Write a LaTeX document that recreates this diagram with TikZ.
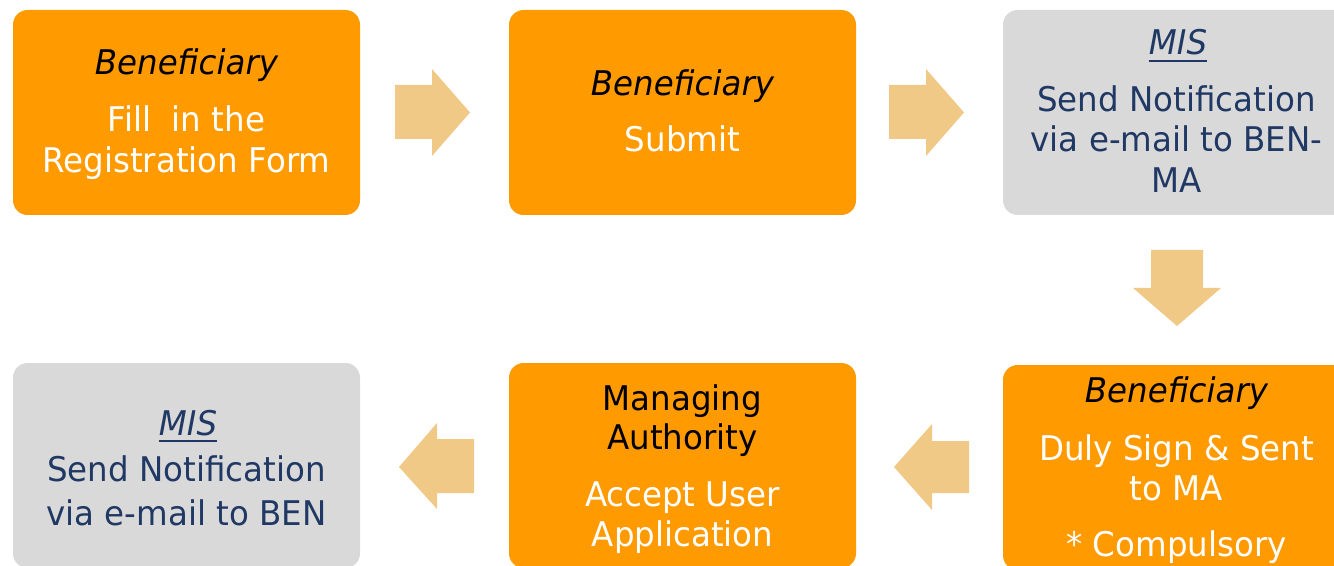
\documentclass[tikz,border=0pt]{standalone}
\usepackage{fontspec}
\setmainfont{DejaVu Sans}[FakeStretch=0.955]
\definecolor{orng}{HTML}{FF9A00}
\definecolor{grayb}{HTML}{D9D9D9}
\definecolor{arrc}{HTML}{F0C987}
\definecolor{navy}{HTML}{203864}
\tikzset{
  box/.style={rounded corners=11pt, minimum width=260.25pt, minimum height=153.75pt, inner sep=0pt},
  obox/.style={box, fill=orng},
  gbox/.style={box, fill=grayb},
  txt/.style={inner sep=0pt, anchor=base, font=\fontsize{25.5}{30}\selectfont},
  wt/.style={txt, text=white},
  bk/.style={txt, text=black},
  bki/.style={txt, text=black, font=\fontsize{25.5}{30}\selectfont\itshape},
  bl/.style={txt, text=navy},
  bli/.style={txt, text=navy, font=\fontsize{25.5}{30}\selectfont\itshape},
  arr/.style={fill=arrc},
}
\begin{document}
\begin{tikzpicture}[x=0.75pt,y=-0.75pt]
\useasboundingbox (0,0) rectangle (1334,566);
\clip (0,0) rectangle (1334,566);
% boxes
\node[obox] (b1) at (186.5,112.5) {};
\node[obox] (b2) at (682.5,112.5) {};
\node[gbox] (b3) at (1176.5,112.5) {};
\node[gbox] (b4) at (186.5,465.5) {};
\node[obox] (b5) at (682.5,465.5) {};
\node[obox] (b6) at (1176.5,467.5) {};
% box 1
\node[bki] (t1a) at (186.5,75) {Beneficiary};
\node[wt] (t1b) at (186.5,132) {Fill\ \ in the};
\node[wt] (t1c) at (186.5,173) {Registration Form};
% box 2
\node[bki] (t2a) at (682.5,96) {Beneficiary};
\node[wt] (t2b) at (682.5,152) {Submit};
% box 3
\node[bli] (t3a) at (1178,55) {MIS};
\draw[navy, line width=1.5pt] ([yshift=-4.5pt]t3a.base west) -- ([yshift=-4.5pt]t3a.base east);
\node[bl] (t3b) at (1176.5,112) {Send Notification};
\node[bl] (t3c) at (1176.5,152) {via e-mail to BEN-};
\node[bl] (t3d) at (1176.5,193) {MA};
% box 4
\node[bli] (t4a) at (188,435) {MIS};
\draw[navy, line width=1.5pt] ([yshift=-4.5pt]t4a.base west) -- ([yshift=-4.5pt]t4a.base east);
\node[bl] (t4b) at (186.5,481) {Send Notification};
\node[bl] (t4c) at (186.5,525) {via e-mail to BEN};
% box 5
\node[bk] (t5a) at (682.5,410) {Managing};
\node[bk] (t5b) at (682.5,449) {Authority};
\node[wt] (t5c) at (682.5,506) {Accept User};
\node[wt] (t5d) at (682.5,546) {Application};
% box 6
\node[bki] (t6a) at (1176.5,402) {Beneficiary};
\node[wt] (t6b) at (1176.5,460) {Duly Sign \& Sent};
\node[wt] (t6c) at (1176.5,500) {to MA};
\node[wt] (t6d) at (1176.5,556) {* Compulsory};
% arrows
\fill[arr] (395,85) -- (432,85) -- (432,69) -- (470,112.5) -- (432,156) -- (432,139) -- (395,139) -- cycle;
\fill[arr] (889,85) -- (926,85) -- (926,69) -- (964,112.5) -- (926,156) -- (926,139) -- (889,139) -- cycle;
\fill[arr] (1151,250) -- (1203,250) -- (1203,288) -- (1221,288) -- (1177,326) -- (1133,288) -- (1151,288) -- cycle;
\fill[arr] (474,439) -- (437,439) -- (437,423) -- (399,467) -- (437,509) -- (437,493) -- (474,493) -- cycle;
\fill[arr] (969,441) -- (932,441) -- (932,424) -- (894,467) -- (932,510) -- (932,493) -- (969,493) -- cycle;
\end{tikzpicture}
\end{document}
